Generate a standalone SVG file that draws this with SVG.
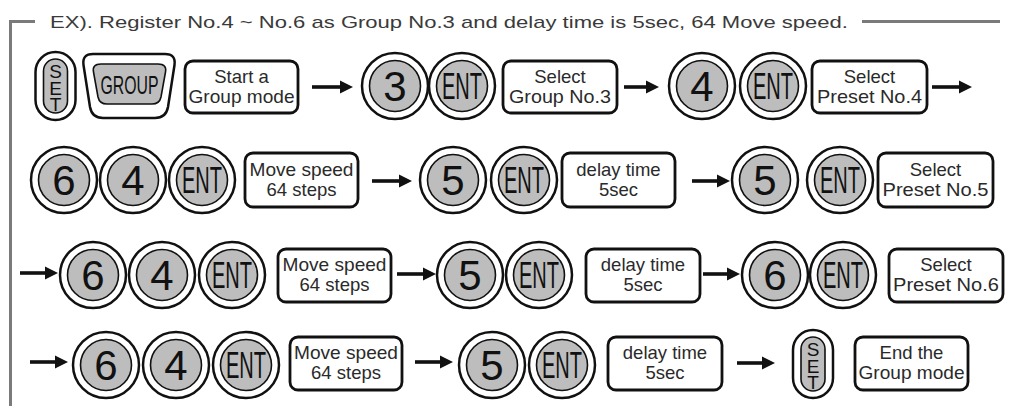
<svg xmlns="http://www.w3.org/2000/svg" width="1010" height="406" viewBox="0 0 1010 406">
<style>
text{font-family:"Liberation Sans",Arial,sans-serif;fill:#111}
.ring{fill:#fff;stroke:#111;stroke-width:2.5}
.core{fill:#bdbdbd;stroke:#111;stroke-width:1.6}
.box{fill:#fff;stroke:#111;stroke-width:2.8}
.lbl{font-size:18.5px;text-anchor:middle;fill:#2a2a2a}
.dig{font-size:42px;text-anchor:middle}
.ent{font-size:36px;text-anchor:middle}
.set{font-size:19px;text-anchor:middle}
.frame{fill:none;stroke:#7a7a7a;stroke-width:3}
.arr{stroke:#111;stroke-width:3.6;fill:none;marker-end:url(#ah)}
.hdr{font-size:17px;fill:#3a3a3a}
</style>
<defs>
<marker id="ah" markerUnits="userSpaceOnUse" markerWidth="14" markerHeight="14" refX="2" refY="7" orient="auto">
<path d="M0,0.5 L13,7 L0,13.5 Z" fill="#111"/>
</marker>
<g id="btn"><circle class="ring" r="33"/><circle class="core" r="25.5"/></g>
<g id="setb"><rect class="ring" x="-20" y="-34" width="40" height="68" rx="20"/><rect class="core" x="-12" y="-27" width="24" height="54" rx="12"/>
<text class="set" y="-8">S</text><text class="set" y="8.5">E</text><text class="set" y="25">T</text></g>
</defs>

<g id="frame">
<path class="frame" d="M10.5,406 L10.5,21.5 L35,21.5"/>
<path class="frame" d="M862,21.5 L1000,21.5"/>
<text class="hdr" x="50" y="28" textLength="798" lengthAdjust="spacingAndGlyphs">EX). Register No.4 ~ No.6 as Group No.3 and delay time is 5sec, 64 Move speed.</text>
</g>

<!-- Row 1 -->
<g id="r1-set"><use href="#setb" x="55.5" y="86"/></g>
<g id="r1-group">
<path class="ring" d="M93,54 L165,54 Q176,54 174.5,65 L168,107 Q166,118 155,118 L103,118 Q92,118 90,107 L83.5,65 Q82,54 93,54 Z"/>
<path class="core" d="M101,64 L158,64 Q167,64 165.5,72 L161,97 Q159.5,104 152,104 L107,104 Q99.5,104 98,97 L93.5,72 Q92,64 101,64 Z"/>
<text class="lbl" x="129.5" y="94" style="font-size:26px;fill:#111" textLength="58" lengthAdjust="spacingAndGlyphs">GROUP</text>
</g>
<g id="r1-start"><rect class="box" x="185" y="61" width="113" height="52" rx="8"/><text class="lbl" x="241.5" y="83">Start a</text><text class="lbl" x="241.5" y="103" textLength="106" lengthAdjust="spacingAndGlyphs">Group mode</text></g>
<g id="r1-3"><use href="#btn" x="395" y="86"/><text class="dig" x="395" y="101">3</text></g>
<g id="r1-ent1"><use href="#btn" x="462" y="86"/><text class="ent" x="462" y="99" textLength="40" lengthAdjust="spacingAndGlyphs">ENT</text></g>
<g id="r1-selg"><rect class="box" x="503" y="61" width="114" height="52" rx="8"/><text class="lbl" x="560" y="83">Select</text><text class="lbl" x="560" y="103" textLength="102" lengthAdjust="spacingAndGlyphs">Group No.3</text></g>
<g id="r1-4"><use href="#btn" x="702" y="86"/><text class="dig" x="702" y="101">4</text></g>
<g id="r1-ent2"><use href="#btn" x="773" y="86"/><text class="ent" x="773" y="99" textLength="40" lengthAdjust="spacingAndGlyphs">ENT</text></g>
<g id="r1-selp4"><rect class="box" x="812" y="61" width="115" height="52" rx="8"/><text class="lbl" x="869.5" y="83">Select</text><text class="lbl" x="869.5" y="103" textLength="105" lengthAdjust="spacingAndGlyphs">Preset No.4</text></g>

<!-- Row 2 -->
<g id="r2-6"><use href="#btn" x="64" y="180"/><text class="dig" x="64" y="195">6</text></g>
<g id="r2-4"><use href="#btn" x="133" y="180"/><text class="dig" x="133" y="195">4</text></g>
<g id="r2-ent1"><use href="#btn" x="202" y="180"/><text class="ent" x="202" y="193" textLength="40" lengthAdjust="spacingAndGlyphs">ENT</text></g>
<g id="r2-move"><rect class="box" x="245" y="153" width="113" height="54" rx="8"/><text class="lbl" x="301.5" y="176" textLength="104" lengthAdjust="spacingAndGlyphs">Move speed</text><text class="lbl" x="301.5" y="196">64 steps</text></g>
<g id="r2-5a"><use href="#btn" x="453" y="180"/><text class="dig" x="453" y="195">5</text></g>
<g id="r2-ent2"><use href="#btn" x="524" y="180"/><text class="ent" x="524" y="193" textLength="40" lengthAdjust="spacingAndGlyphs">ENT</text></g>
<g id="r2-delay"><rect class="box" x="562" y="153" width="113" height="54" rx="8"/><text class="lbl" x="618.5" y="176">delay time</text><text class="lbl" x="618.5" y="196">5sec</text></g>
<g id="r2-5b"><use href="#btn" x="765" y="180"/><text class="dig" x="765" y="195">5</text></g>
<g id="r2-ent3"><use href="#btn" x="840" y="180"/><text class="ent" x="840" y="193" textLength="40" lengthAdjust="spacingAndGlyphs">ENT</text></g>
<g id="r2-selp5"><rect class="box" x="878" y="153" width="115" height="54" rx="8"/><text class="lbl" x="935.5" y="176">Select</text><text class="lbl" x="935.5" y="196" textLength="106" lengthAdjust="spacingAndGlyphs">Preset No.5</text></g>

<!-- Row 3 -->
<g id="r3-6"><use href="#btn" x="93" y="275"/><text class="dig" x="93" y="290">6</text></g>
<g id="r3-4"><use href="#btn" x="162" y="275"/><text class="dig" x="162" y="290">4</text></g>
<g id="r3-ent1"><use href="#btn" x="232" y="275"/><text class="ent" x="232" y="288" textLength="40" lengthAdjust="spacingAndGlyphs">ENT</text></g>
<g id="r3-move"><rect class="box" x="278" y="249" width="113" height="53" rx="8"/><text class="lbl" x="334.5" y="271" textLength="104" lengthAdjust="spacingAndGlyphs">Move speed</text><text class="lbl" x="334.5" y="291">64 steps</text></g>
<g id="r3-5"><use href="#btn" x="470" y="275"/><text class="dig" x="470" y="290">5</text></g>
<g id="r3-ent2"><use href="#btn" x="539" y="275"/><text class="ent" x="539" y="288" textLength="40" lengthAdjust="spacingAndGlyphs">ENT</text></g>
<g id="r3-delay"><rect class="box" x="586" y="249" width="114" height="53" rx="8"/><text class="lbl" x="643" y="271">delay time</text><text class="lbl" x="643" y="291">5sec</text></g>
<g id="r3-6b"><use href="#btn" x="775" y="275"/><text class="dig" x="775" y="290">6</text></g>
<g id="r3-ent3"><use href="#btn" x="843" y="275"/><text class="ent" x="843" y="288" textLength="40" lengthAdjust="spacingAndGlyphs">ENT</text></g>
<g id="r3-selp6"><rect class="box" x="889" y="249" width="114" height="53" rx="8"/><text class="lbl" x="946" y="271">Select</text><text class="lbl" x="946" y="291" textLength="106" lengthAdjust="spacingAndGlyphs">Preset No.6</text></g>

<!-- Row 4 -->
<g id="r4-6"><use href="#btn" x="106" y="365"/><text class="dig" x="106" y="380">6</text></g>
<g id="r4-4"><use href="#btn" x="176" y="365"/><text class="dig" x="176" y="380">4</text></g>
<g id="r4-ent1"><use href="#btn" x="246" y="365"/><text class="ent" x="246" y="378" textLength="40" lengthAdjust="spacingAndGlyphs">ENT</text></g>
<g id="r4-move"><rect class="box" x="290" y="337" width="112" height="53" rx="8"/><text class="lbl" x="346" y="359" textLength="104" lengthAdjust="spacingAndGlyphs">Move speed</text><text class="lbl" x="346" y="379">64 steps</text></g>
<g id="r4-5"><use href="#btn" x="492" y="365"/><text class="dig" x="492" y="380">5</text></g>
<g id="r4-ent2"><use href="#btn" x="562" y="365"/><text class="ent" x="562" y="378" textLength="40" lengthAdjust="spacingAndGlyphs">ENT</text></g>
<g id="r4-delay"><rect class="box" x="608" y="337" width="114" height="53" rx="8"/><text class="lbl" x="665" y="359">delay time</text><text class="lbl" x="665" y="379">5sec</text></g>
<g id="r4-set"><use href="#setb" x="813" y="364"/></g>
<g id="r4-end"><rect class="box" x="855" y="337" width="113" height="53" rx="8"/><text class="lbl" x="911.5" y="359">End the</text><text class="lbl" x="911.5" y="379" textLength="106" lengthAdjust="spacingAndGlyphs">Group mode</text></g>

<g id="connectors">
<line class="arr" x1="312" y1="87" x2="342" y2="87"/>
<line class="arr" x1="624" y1="87" x2="648" y2="87"/>
<line class="arr" x1="932" y1="87" x2="961" y2="87"/>
<line class="arr" x1="372" y1="181" x2="401" y2="181"/>
<line class="arr" x1="692" y1="181" x2="719" y2="181"/>
<line class="arr" x1="20" y1="273" x2="47" y2="273"/>
<line class="arr" x1="397" y1="274" x2="425" y2="274"/>
<line class="arr" x1="703" y1="274" x2="729" y2="274"/>
<line class="arr" x1="30" y1="362" x2="57" y2="362"/>
<line class="arr" x1="415" y1="362" x2="442" y2="362"/>
<line class="arr" x1="737" y1="363" x2="764" y2="363"/>
</g>
</svg>
